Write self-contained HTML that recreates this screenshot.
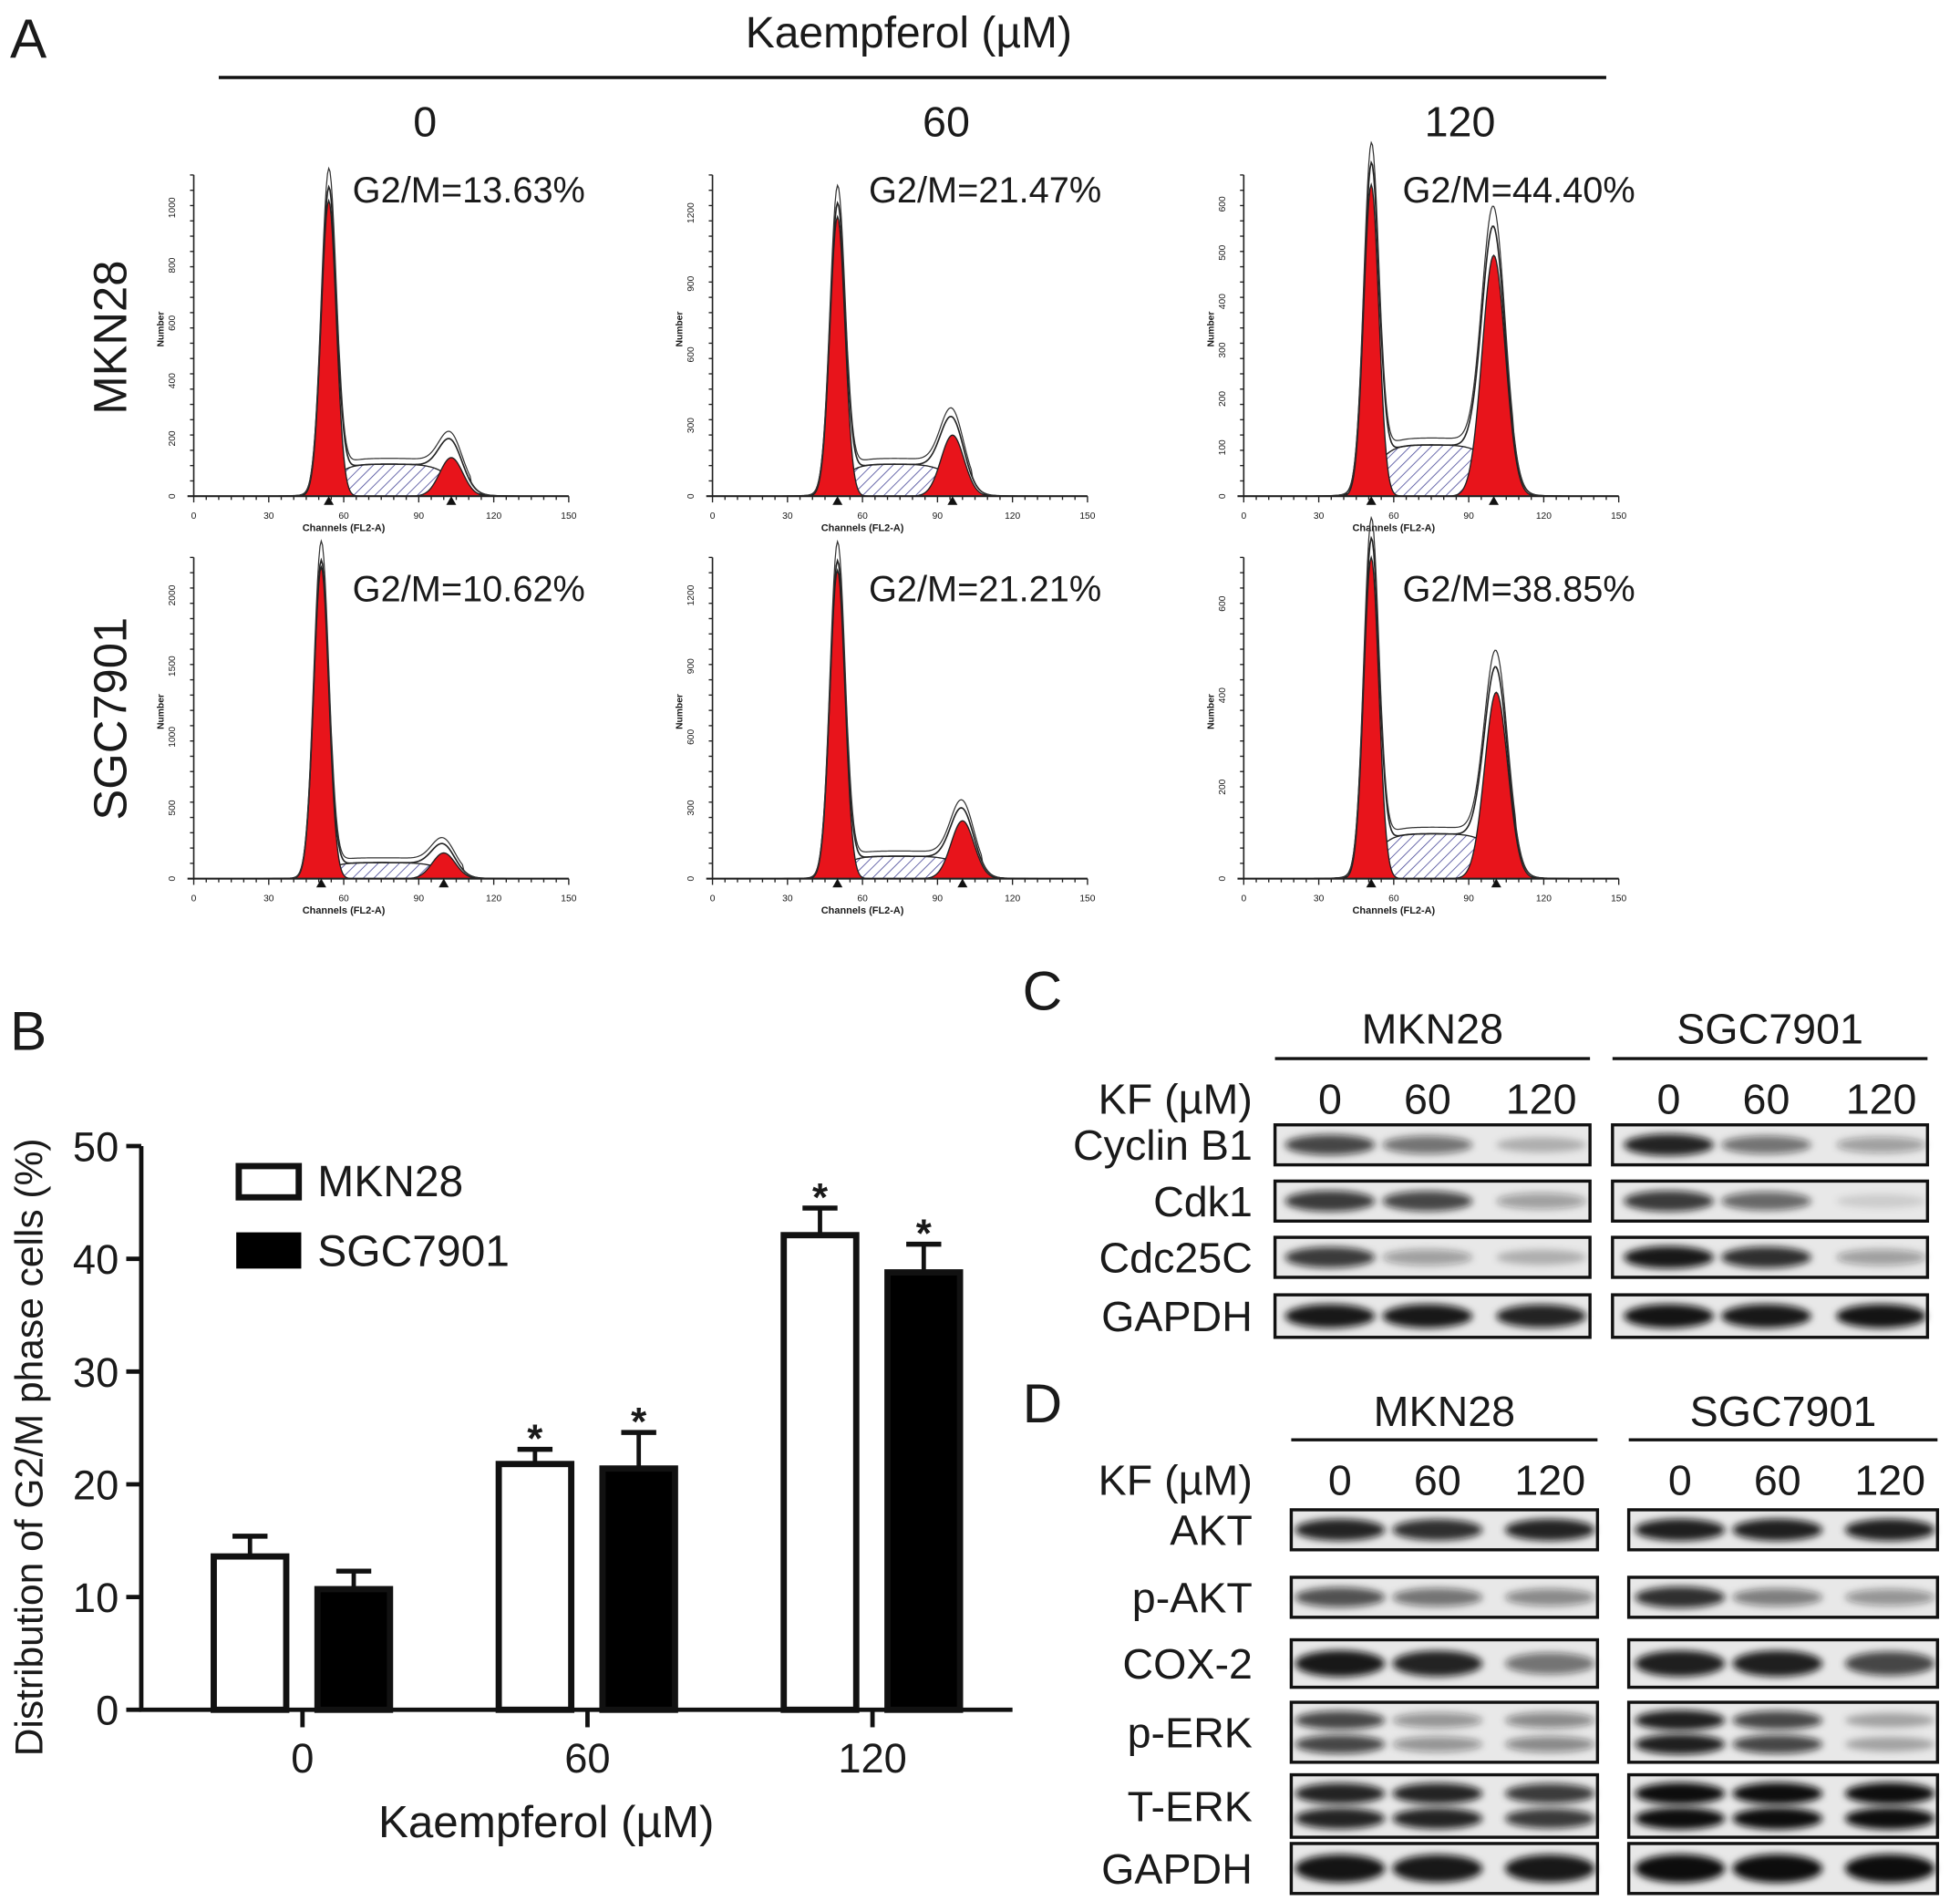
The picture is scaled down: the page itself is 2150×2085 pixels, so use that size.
<!DOCTYPE html>
<html><head><meta charset="utf-8"><style>
html,body{margin:0;padding:0;background:#fff}
svg{display:block}
text{font-family:"Liberation Sans",Arial,sans-serif;fill:#1a1a1a}
</style></head><body>
<svg id="fig" width="2150" height="2085" viewBox="0 0 1568 1521" preserveAspectRatio="none" xmlns="http://www.w3.org/2000/svg">
<defs>
<pattern id="hatch" patternUnits="userSpaceOnUse" width="6" height="6" patternTransform="rotate(45)">
<rect width="6" height="6" fill="#fff"/><line x1="0" y1="0" x2="0" y2="6" stroke="#4a4a9a" stroke-width="1.2"/></pattern>
<filter id="blur" x="-20%" y="-60%" width="140%" height="220%"><feGaussianBlur stdDeviation="3"/></filter>
</defs>
<g id="panelA">
<text x="8" y="46" font-size="44">A</text>
<text x="727" y="38" font-size="35" text-anchor="middle">Kaempferol (µM)</text>
<line x1="175" y1="62" x2="1285" y2="62" stroke="#111" stroke-width="2.5"/>
<text x="340" y="109" font-size="34" text-anchor="middle">0</text>
<text x="757" y="109" font-size="34" text-anchor="middle">60</text>
<text x="1168" y="109" font-size="34" text-anchor="middle">120</text>
<text transform="translate(101,270) rotate(-90)" font-size="37" text-anchor="middle">MKN28</text>
<text transform="translate(101,575) rotate(-90)" font-size="37" text-anchor="middle">SGC7901</text>
</g>
<g id="hists"></g>
<g id="panelB">
<text x="8" y="840" font-size="44">B</text>
</g>
<g id="bars"></g>
<g id="blots"></g>
</svg>
<script>
const NS="http://www.w3.org/2000/svg";
function mk(tag,attrs,parent){const e=document.createElementNS(NS,tag);for(const k in attrs)e.setAttribute(k,attrs[k]);parent.appendChild(e);return e;}

// ===== Panel A histograms =====
const histLabels=["G2/M=13.63%","G2/M=21.47%","G2/M=44.40%","G2/M=10.62%","G2/M=21.21%","G2/M=38.85%"];
const g1Pos=[54,50,51,51,50,51];
const g1Height=[0.92,0.87,0.97,0.97,0.96,1.0];
const g2Pos=[103,96,100,100,100,101];
const g2Height=[0.12,0.19,0.75,0.08,0.18,0.58];
const sLevel=[0.1,0.1,0.16,0.05,0.07,0.14];
const yTicks=[["0","200","400","600","800","1000"],["0","300","600","900","1200"],["0","100","200","300","400","500","600"],["0","500","1000","1500","2000"],["0","300","600","900","1200"],["0","200","400","600"]];
const xTicks=[0,30,60,90,120,150];
const colX=[155,570,995], rowZero=[397,703], H=257;
const hg=document.getElementById('hists');
for(let p=0;p<6;p++){
  const ox=colX[p%3], oy=rowZero[Math.floor(p/3)];
  const g=mk('g',{},hg);
  
  
  const sx=c=>ox+c*2, sy=v=>oy-v*H;
  const G1=c=>g1Height[p]*Math.exp(-Math.pow(c-g1Pos[p],2)/(2*3.0*3.0));
  const G2=c=>g2Height[p]*Math.exp(-Math.pow(c-g2Pos[p],2)/(2*4.6*4.6));
  const sig=x=>1/(1+Math.exp(-x));
  const S=c=>sLevel[p]*sig((c-g1Pos[p]-1)/3.5)*sig((g2Pos[p]-c+1)/4);
  let sp="",g1p="",g2p="",env="",raw="";
  for(let c=28;c<=130;c+=0.5){
    sp+=(c==28?"M":"L")+sx(c)+","+sy(S(c));
    g1p+=(c==28?"M":"L")+sx(c)+","+sy(G1(c));
    g2p+=(c==28?"M":"L")+sx(c)+","+sy(G2(c));
    const e=G1(c)+G2(c)+S(c);
    env+=(c==28?"M":"L")+sx(c)+","+sy(e);
    raw+=(c==28?"M":"L")+sx(c)+","+sy(e*1.06+(c>g1Pos[p]+4&&c<g2Pos[p]+8?0.012:0));
  }
  const s=mk('path',{d:sp+"L"+sx(130)+","+oy+"L"+sx(28)+","+oy+"Z",fill:"url(#hatch)",stroke:"#222","stroke-width":1},g);
  
  
  const a=mk('path',{d:g1p+"L"+sx(130)+","+oy+"L"+sx(28)+","+oy+"Z",fill:"#e8141b",stroke:"#222","stroke-width":1},g);
  
  
  const b=mk('path',{d:g2p+"L"+sx(130)+","+oy+"L"+sx(28)+","+oy+"Z",fill:"#e8141b",stroke:"#222","stroke-width":1},g);
  
  
  const e1=mk('path',{d:env,fill:"none",stroke:"#222","stroke-width":1.2},g);
  
  
  const e2=mk('path',{d:raw,fill:"none",stroke:"#333","stroke-width":0.9},g);
  
  
  mk('line',{x1:ox,y1:oy-H,x2:ox,y2:oy,stroke:"#222","stroke-width":1.2},g);
  mk('line',{x1:ox-5,y1:oy,x2:sx(150),y2:oy,stroke:"#222","stroke-width":1.5},g);
  for(let c=0;c<=150;c+=5){mk('line',{x1:sx(c),y1:oy,x2:sx(c),y2:oy+(c%30==0?5:3),stroke:"#222","stroke-width":1},g);}
  for(let i=0;i<22;i++){mk('line',{x1:ox-3,y1:oy-i*H/21,x2:ox,y2:oy-i*H/21,stroke:"#222","stroke-width":1},g);}
  xTicks.forEach(t=>{const tx=mk('text',{x:sx(t),y:oy+18,"font-size":7.5,"text-anchor":"middle"},g);tx.textContent=t;});
  const yt=yTicks[p], step=(H*0.97)/(yt.length-0.6);
  yt.forEach((t,i)=>{const tx=mk('text',{transform:`translate(${ox-15},${oy-i*step}) rotate(-90)`,"font-size":7.5,"text-anchor":"middle"},g);tx.textContent=t;});
  const yl=mk('text',{transform:`translate(${ox-24},${oy-H*0.52}) rotate(-90)`,"font-size":7.5,"text-anchor":"middle","font-weight":"bold"},g);yl.textContent="Number";
  const xl=mk('text',{x:sx(60),y:oy+28,"font-size":8,"text-anchor":"middle","font-weight":"bold"},g);xl.textContent="Channels (FL2-A)";
  [g1Pos[p],g2Pos[p]].forEach(m=>{mk('path',{d:`M${sx(m)-4},${oy+7}L${sx(m)+4},${oy+7}L${sx(m)},${oy}Z`,fill:"#111"},g);});
  const lt=mk('text',{x:ox+127+(p%3==1?-2:0),y:oy-(Math.floor(p/3)==0?235:222),"font-size":29},g);
  lt.textContent=histLabels[p];
  
  
}

// ===== Panel B bar chart =====
const categories=["0","60","120"];
const mknValues=[13.6,21.8,42.1];
const sgcValues=[10.7,21.4,38.8];
const mknErr=[1.8,1.3,2.4];
const sgcErr=[1.6,3.2,2.5];
const mknSig=[false,true,true];
const sgcSig=[false,true,true];
const yTickVals=[0,10,20,30,40,50];
const bg=document.getElementById('bars');
const X0=113,Y0=1368,PX=9.02;
const yS=v=>Y0-v*PX;
const catX=i=>242+i*228;
const ax=mk('path',{d:`M${X0},${yS(50)}L${X0},${Y0}L810,${Y0}`,fill:"none",stroke:"#111","stroke-width":3.5},bg);


yTickVals.forEach(v=>{
  mk('line',{x1:X0-12,y1:yS(v),x2:X0,y2:yS(v),stroke:"#111","stroke-width":3.5},bg);
  const t=mk('text',{x:X0-18,y:yS(v)+12,"font-size":33,"text-anchor":"end"},bg);t.textContent=v;
  
  
});
categories.forEach((c,i)=>{
  mk('line',{x1:catX(i),y1:Y0,x2:catX(i),y2:Y0+14,stroke:"#111","stroke-width":3.5},bg);
  const t=mk('text',{x:catX(i),y:1418,"font-size":33,"text-anchor":"middle"},bg);t.textContent=c;
  
  
});
function drawBar(i,val,err,sig,off,fill,name){
  const x=catX(i)+off, w=58;
  const top=yS(val+err);
  mk('line',{x1:x+w/2,y1:yS(val),x2:x+w/2,y2:top,stroke:"#111","stroke-width":3.5},bg);
  mk('line',{x1:x+w/2-14,y1:top,x2:x+w/2+14,y2:top,stroke:"#111","stroke-width":4},bg);
  const r=mk('rect',{x:x,y:yS(val),width:w,height:Y0-yS(val),fill:fill,stroke:"#111","stroke-width":5},bg);
  
  
  if(sig){const s=mk('text',{x:x+w/2,y:top+2,"font-size":32,"text-anchor":"middle","font-weight":"bold"},bg);s.textContent="*";
    
    }
}
categories.forEach((c,i)=>{
  drawBar(i,mknValues[i],mknErr[i],mknSig[i],-71,"#fff","bar-mkn28");
  drawBar(i,sgcValues[i],sgcErr[i],sgcSig[i],12,"#000","bar-sgc7901");
});
const yt=mk('text',{transform:"translate(34,1158) rotate(-90)","font-size":31,"text-anchor":"middle"},bg);yt.textContent="Distribution of G2/M phase cells (%)";


const xt=mk('text',{x:437,y:1470,"font-size":36,"text-anchor":"middle"},bg);xt.textContent="Kaempferol (µM)";


const l1=mk('rect',{x:191,y:933,width:48,height:25,fill:"#fff",stroke:"#111","stroke-width":5},bg);


const l2=mk('rect',{x:189,y:986,width:52,height:29,fill:"#000"},bg);


const lt1=mk('text',{x:254,y:957,"font-size":35},bg);lt1.textContent="MKN28";


const lt2=mk('text',{x:254,y:1013,"font-size":35},bg);lt2.textContent="SGC7901";



// ===== Panels C & D western blots =====
const blotC={label:"C",labelY:808,headY:835,lineY:847,kfY:891,boxes:[[1020,1272],[1290,1542]],lanes:[[1064,1142,1233],[1335,1413,1505]],
 rows:[["Cyclin B1",900,932,[0.75,0.55,0.25],[0.9,0.55,0.35],1],["Cdk1",945,977,[0.8,0.75,0.35],[0.8,0.6,0.12],1],["Cdc25C",990,1022,[0.8,0.35,0.25],[0.95,0.85,0.35],1],["GAPDH",1036,1070,[0.95,0.95,0.9],[0.97,0.95,0.97],1]]};
const blotD={label:"D",labelY:1138,headY:1141,lineY:1152,kfY:1196,boxes:[[1033,1278],[1303,1550]],lanes:[[1072,1150,1240],[1344,1422,1512]],
 rows:[["AKT",1208,1240,[0.9,0.85,0.9],[0.92,0.92,0.92],1],["p-AKT",1262,1294,[0.7,0.55,0.45],[0.85,0.5,0.4],1],["COX-2",1312,1350,[0.95,0.9,0.55],[0.92,0.92,0.75],1],["p-ERK",1362,1410,[0.75,0.4,0.45],[0.92,0.75,0.3],2],["T-ERK",1420,1470,[0.9,0.9,0.8],[1,1,1],2],["GAPDH",1475,1515,[0.97,0.95,0.95],[1,1,1],1]]};
const wb=document.getElementById('blots');
const cellNames=["MKN28","SGC7901"], doses=["0","60","120"];
[blotC,blotD].forEach(B=>{
  const g=mk('g',{},wb);
  
  
  const pl=mk('text',{x:818,y:B.labelY,"font-size":44},g);pl.textContent=B.label;
  B.boxes.forEach((bx,k)=>{
    const h=mk('text',{x:(bx[0]+bx[1])/2,y:B.headY,"font-size":34,"text-anchor":"middle"},g);h.textContent=cellNames[k];
    mk('line',{x1:bx[0],y1:B.lineY,x2:bx[1],y2:B.lineY,stroke:"#111","stroke-width":2.5},g);
    B.lanes[k].forEach((lx,j)=>{const d=mk('text',{x:lx,y:B.kfY,"font-size":34,"text-anchor":"middle"},g);d.textContent=doses[j];});
  });
  const kf=mk('text',{x:1002,y:B.kfY,"font-size":34,"text-anchor":"end"},g);kf.textContent="KF (µM)";
  B.rows.forEach(r=>{
    const [name,y1,y2,a,b,nb]=r;
    const lab=mk('text',{x:1002,y:(y1+y2)/2+12,"font-size":34,"text-anchor":"end"},g);lab.textContent=name;
    
    
    [a,b].forEach((vals,k)=>{
      const bx=B.boxes[k];
      const box=mk('rect',{x:bx[0],y:y1,width:bx[1]-bx[0],height:y2-y1,fill:"#e8e8e8"},g);
      
      
      const cy=(y1+y2)/2, hh=y2-y1;
      vals.forEach((v,j)=>{
        const lx=B.lanes[k][j];
        for(let q=0;q<nb;q++){
          const by=nb==1?cy:cy+(q==0?-hh*0.2:hh*0.2);
          const band=mk('ellipse',{cx:lx,cy:by,rx:36,ry:(nb==1?hh*0.26:hh*0.16)*(0.6+0.5*v),fill:"#111","fill-opacity":v,filter:"url(#blur)"},g);
          
          
        }
      });
      mk('rect',{x:bx[0],y:y1,width:bx[1]-bx[0],height:y2-y1,fill:"none",stroke:"#111","stroke-width":2.5},g);
    });
  });
});
</script>
</body></html>
